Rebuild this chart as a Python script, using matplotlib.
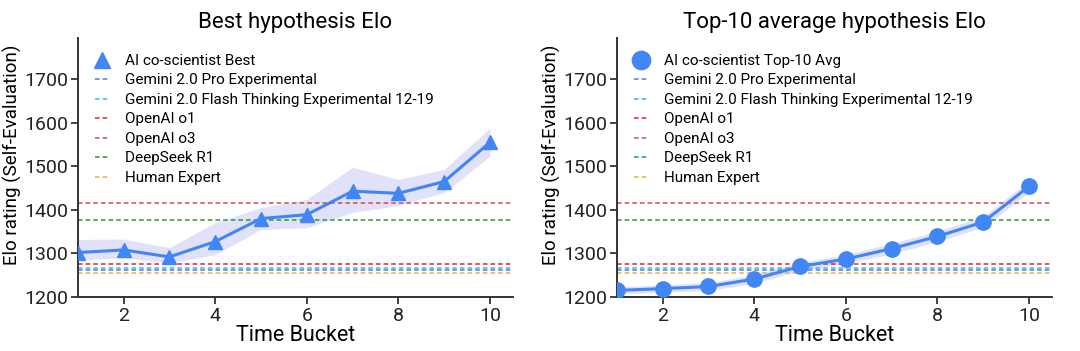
import matplotlib
matplotlib.use("Agg")
import matplotlib.pyplot as plt
import numpy as np

plt.rcParams["font.family"] = ["Roboto", "DejaVu Sans"]

time_bucket = [1, 2, 3, 4, 5, 6, 7, 8, 9, 10]

best_elo = [1302, 1308, 1292, 1327, 1380, 1389, 1443, 1438, 1465, 1555]
best_low = [1285, 1290, 1278, 1297, 1355, 1359, 1394, 1410, 1440, 1523]
best_high = [1332, 1333, 1313, 1371, 1405, 1424, 1498, 1470, 1493, 1588]

top10_elo = [1215, 1219, 1224, 1241, 1270, 1287, 1311, 1339, 1372, 1454]
top10_low = [1207, 1211, 1215, 1231, 1261, 1277, 1299, 1327, 1360, 1440]
top10_high = [1223, 1228, 1233, 1251, 1280, 1297, 1323, 1351, 1385, 1467]

baseline_names = ["Gemini 2.0 Pro Experimental",
                  "Gemini 2.0 Flash Thinking Experimental 12-19",
                  "OpenAI o1", "OpenAI o3", "DeepSeek R1", "Human Expert"]
baseline_elo = [1261, 1266, 1275, 1415, 1376, 1256]
baseline_colors = ["#5577e6", "#33bbf5", "#f02020", "#c8504f", "#2a9a2a", "#e3b24c"]

blue = "#4285f4"
band = "#dcdcf8"


def draw_panel(ax, y, lo, hi, marker, ms, label, title):
    ax.fill_between(time_bucket, lo, hi, color=band, alpha=0.85, lw=0)
    ax.plot(time_bucket, y, color=blue, lw=2.2, marker=marker, markersize=ms,
            label=label, zorder=3)
    for name, val, col in zip(baseline_names, baseline_elo, baseline_colors):
        ax.axhline(val, color=col, ls=(0, (3, 2)), lw=1.1, label=name)
    ax.set_xlim(1, 10.5)
    ax.set_ylim(1200, 1795)
    ax.set_xticks([2, 4, 6, 8, 10])
    ax.set_yticks([1200, 1300, 1400, 1500, 1600, 1700])
    ax.tick_params(labelsize=14, length=5, width=1.2, colors="#222222", pad=2)
    for s in ["top", "right"]:
        ax.spines[s].set_visible(False)
    for s in ["left", "bottom"]:
        ax.spines[s].set_linewidth(1.4)
        ax.spines[s].set_color("#333333")
    ax.set_xlabel("Time Bucket", fontsize=15.5, labelpad=0)
    ax.set_ylabel("Elo rating (Self-Evaluation)", fontsize=13.5)
    ax.yaxis.set_label_coords(-0.128, 0.55)
    ax.set_title(title, fontsize=16, pad=7)
    leg = ax.legend(loc="upper left", frameon=False, fontsize=11,
                    handlelength=1.0, handletextpad=1.0, labelspacing=0.36,
                    markerscale=1.2, bbox_to_anchor=(0.025, 0.962), borderaxespad=0)
    leg.get_lines()[0].set_linestyle("none")


fig, (ax1, ax2) = plt.subplots(1, 2, figsize=(10.8, 3.51), dpi=100)
fig.subplots_adjust(left=0.072, right=0.974, bottom=0.154, top=0.892, wspace=0.239)

draw_panel(ax1, best_elo, best_low, best_high, "^", 10, "AI co-scientist Best",
           "Best hypothesis Elo")
draw_panel(ax2, top10_elo, top10_low, top10_high, "o", 11, "AI co-scientist Top-10 Avg",
           "Top-10 average hypothesis Elo")

fig.savefig("out.png", dpi=100)
